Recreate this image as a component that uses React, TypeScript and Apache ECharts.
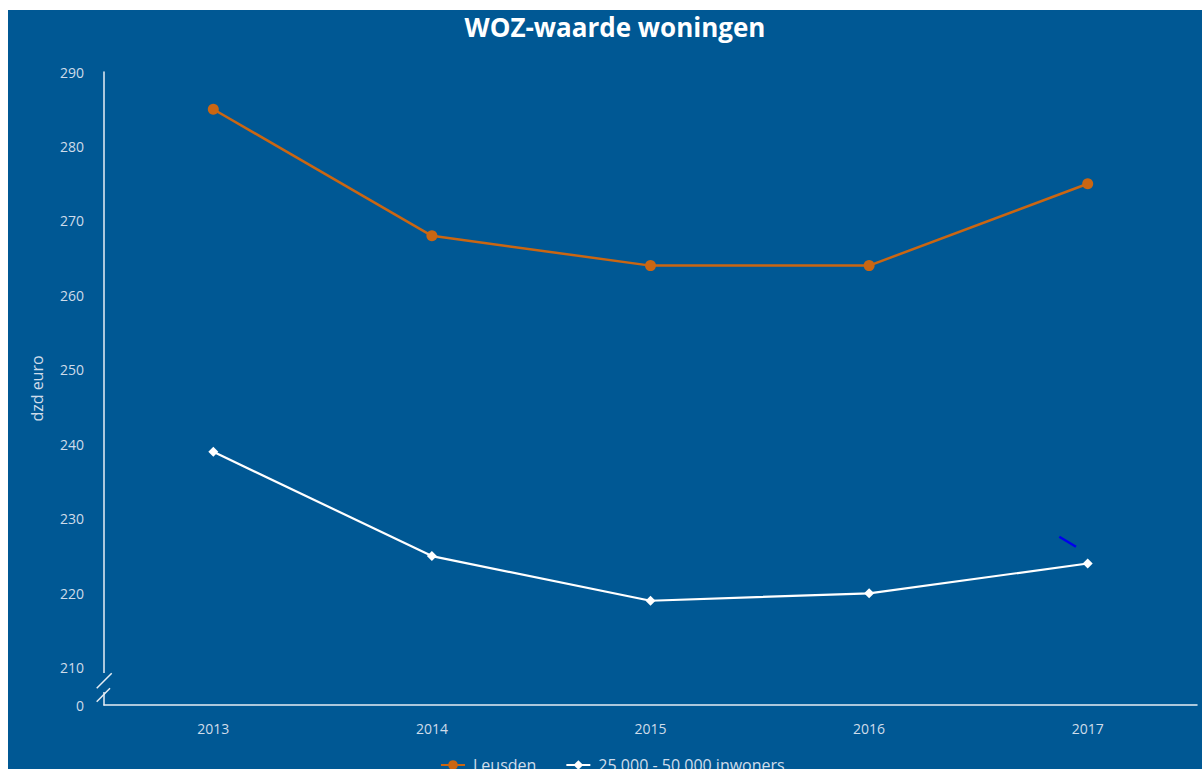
import React, { useEffect, useRef } from "react";
import * as echarts from "echarts";

const years = ["2013", "2014", "2015", "2016", "2017"];
const leusden = [285, 268, 264, 264, 275];
const inwoners = [239, 225, 219, 220, 224];
const seriesNames = ["Leusden", "25.000 - 50.000 inwoners"];
const titleText = "WOZ-waarde woningen";
const yAxisName = "dzd euro";

const BG = "#005894";
const LABEL = "#cfdcea";
const AXIS = "#e6edf4";
const ORANGE = "#ca6612";

export default function App() {
  const ref = useRef<HTMLDivElement>(null);
  useEffect(() => {
    if (!ref.current) return;
    const chart = echarts.init(ref.current, undefined, { renderer: "svg" });
    chart.setOption({
      animation: false,
      backgroundColor: BG,
      textStyle: { fontFamily: "Open Sans" },
      title: {
        text: titleText,
        left: 602,
        textAlign: "center",
        top: -1,
        textStyle: { color: "#ffffff", fontSize: 26, fontWeight: "bold", fontFamily: "Open Sans" },
      },
      legend: {
        top: 742,
        left: 427,
        itemGap: 29,
        itemWidth: 24,
        itemHeight: 12,
        textStyle: { color: LABEL, fontSize: 16, fontFamily: "Open Sans", padding: [0, 0, 0, 3] },
        data: seriesNames,
      },
      grid: { left: 96, top: 62, right: 5, bottom: 64, containLabel: false },
      xAxis: {
        type: "category",
        data: years,
        boundaryGap: true,
        axisLine: { lineStyle: { color: AXIS, width: 1.5 } },
        axisTick: { show: false },
        axisLabel: { color: LABEL, fontSize: 14, margin: 16, fontFamily: "Open Sans" },
        splitLine: { show: false },
      },
      yAxis: {
        type: "value",
        min: 205,
        max: 290,
        interval: 5,
        name: yAxisName,
        nameLocation: "middle",
        nameGap: 59,
        nameTextStyle: { color: LABEL, fontSize: 16, fontFamily: "Open Sans" },
        axisLine: { show: true, lineStyle: { color: AXIS, width: 1.5 } },
        axisTick: { show: false },
        splitLine: { show: false },
        axisLabel: {
          color: LABEL,
          fontSize: 14,
          margin: 20,
          fontFamily: "Open Sans",
          formatter: (v: number) => (v === 205 ? "0" : v % 10 === 0 ? String(v) : ""),
        },
      },
      series: [
        {
          name: seriesNames[0],
          type: "line",
          data: leusden,
          symbol: "circle",
          symbolSize: 11,
          lineStyle: { color: ORANGE, width: 2.5 },
          itemStyle: { color: ORANGE },
        },
        {
          name: seriesNames[1],
          type: "line",
          data: inwoners,
          symbol: "diamond",
          symbolSize: 10,
          lineStyle: { color: "#ffffff", width: 2.2 },
          itemStyle: { color: "#ffffff" },
        },
      ],
      graphic: [
        { type: "rect", shape: { x: 92, y: 663, width: 8, height: 19 }, style: { fill: BG }, z: 100 },
        { type: "line", shape: { x1: 88.7, y1: 678.3, x2: 103.7, y2: 663.3 }, style: { stroke: AXIS, lineWidth: 1.5 }, z: 101 },
        { type: "line", shape: { x1: 88.7, y1: 691.7, x2: 102, y2: 678.3 }, style: { stroke: AXIS, lineWidth: 1.5 }, z: 101 },
        { type: "line", shape: { x1: 1051.3, y1: 526.7, x2: 1068, y2: 536.7 }, style: { stroke: "#0000ee", lineWidth: 2.5 }, z: 101 },
      ],
    });
    return () => chart.dispose();
  }, []);
  return (
    <div style={{ position: "absolute", left: 0, top: 0, width: 1202, height: 769, background: "#ffffff", overflow: "hidden" }}>
      <div ref={ref} style={{ position: "absolute", left: 8, top: 10, width: 1194, height: 759 }} />
    </div>
  );
}
